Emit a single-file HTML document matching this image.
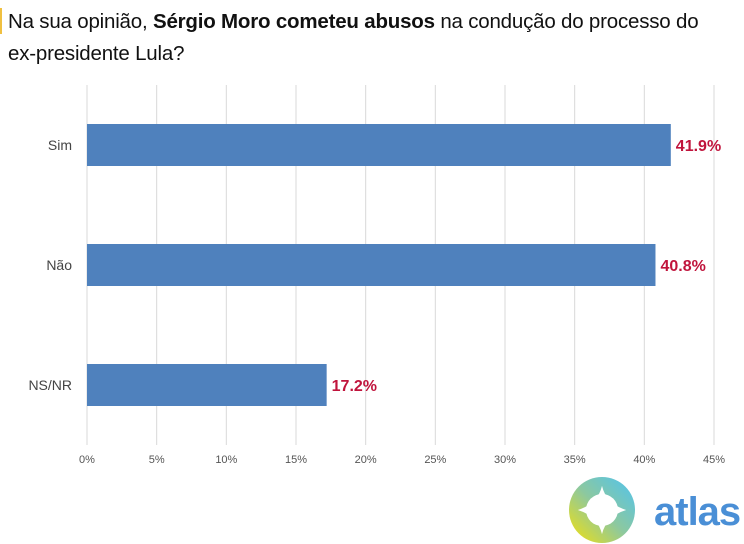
<!DOCTYPE html>
<html><head><meta charset="utf-8"><style>
body{margin:0;width:744px;height:544px;background:#fff;overflow:hidden;font-family:"Liberation Sans",sans-serif;position:relative}
#title{position:absolute;left:8px;top:6px;font-size:20.5px;line-height:32px;color:#111;letter-spacing:-0.2px}
#bar-mark{position:absolute;left:0;top:8px;width:2px;height:26px;background:#f0c040}
</style></head><body>
<div id="bar-mark"></div>
<div id="title">Na sua opinião, <b>Sérgio Moro cometeu abusos</b> na condução do processo do<br>ex-presidente Lula?</div>
<svg id="chart" width="744" height="544" style="position:absolute;left:0;top:0"></svg>
<script>
const categories=["Sim","Não","NS/NR"];
const values=[41.9,40.8,17.2];
const labels=["41.9%","40.8%","17.2%"];
const ticks=[0,5,10,15,20,25,30,35,40,45];
const NS="http://www.w3.org/2000/svg";
const svg=document.getElementById('chart');
const x0=87,x1=714,xmax=45;
const xs=v=>x0+(v/xmax)*(x1-x0);
const yTop=85,yBot=445,band=120;
function mk(t,a,p){const e=document.createElementNS(NS,t);for(const k in a)e.setAttribute(k,a[k]);(p||svg).appendChild(e);return e;}
ticks.forEach(t=>{
  const l=mk('line',{x1:xs(t),x2:xs(t),y1:yTop,y2:yBot,stroke:'#d9d9d9','stroke-width':1});
  
  
  const tx=mk('text',{x:xs(t),y:463,'text-anchor':'middle','font-size':11,fill:'#555'});
  tx.textContent=t+'%';
  
  
});
categories.forEach((c,i)=>{
  const cy=yTop+band*i+band/2;
  const r=mk('rect',{x:x0,y:cy-21,width:xs(values[i])-x0,height:42,fill:'#4f81bd'});
  
  
  const cl=mk('text',{x:72,y:cy+5,'text-anchor':'end','font-size':14,fill:'#444'});
  cl.textContent=c;
  
  
  const vl=mk('text',{x:xs(values[i])+5,y:cy+6,'font-size':16,'font-weight':'bold',fill:'#c0143c'});
  vl.textContent=labels[i];
  
  
});
</script>
<svg width="744" height="544" style="position:absolute;left:0;top:0">
<defs><linearGradient id="g" x1="0" y1="1" x2="1" y2="0"><stop offset="0" stop-color="#f5e10a"/><stop offset="0.5" stop-color="#8cc8a0"/><stop offset="1" stop-color="#4fc3f0"/></linearGradient></defs>
<circle cx="602" cy="510" r="33" fill="url(#g)"/>
<path d="M602 487 Q606 504 625 510 Q606 516 602 533 Q598 516 579 510 Q598 504 602 487Z" fill="#fff" transform="translate(602 510) scale(1.05) translate(-602 -510)"/>
<circle cx="602" cy="510" r="16" fill="#fff"/>
<text x="654" y="525" font-size="40" font-weight="bold" fill="#4a8fd6" letter-spacing="-1">atlas</text>
</svg>
</body></html>
